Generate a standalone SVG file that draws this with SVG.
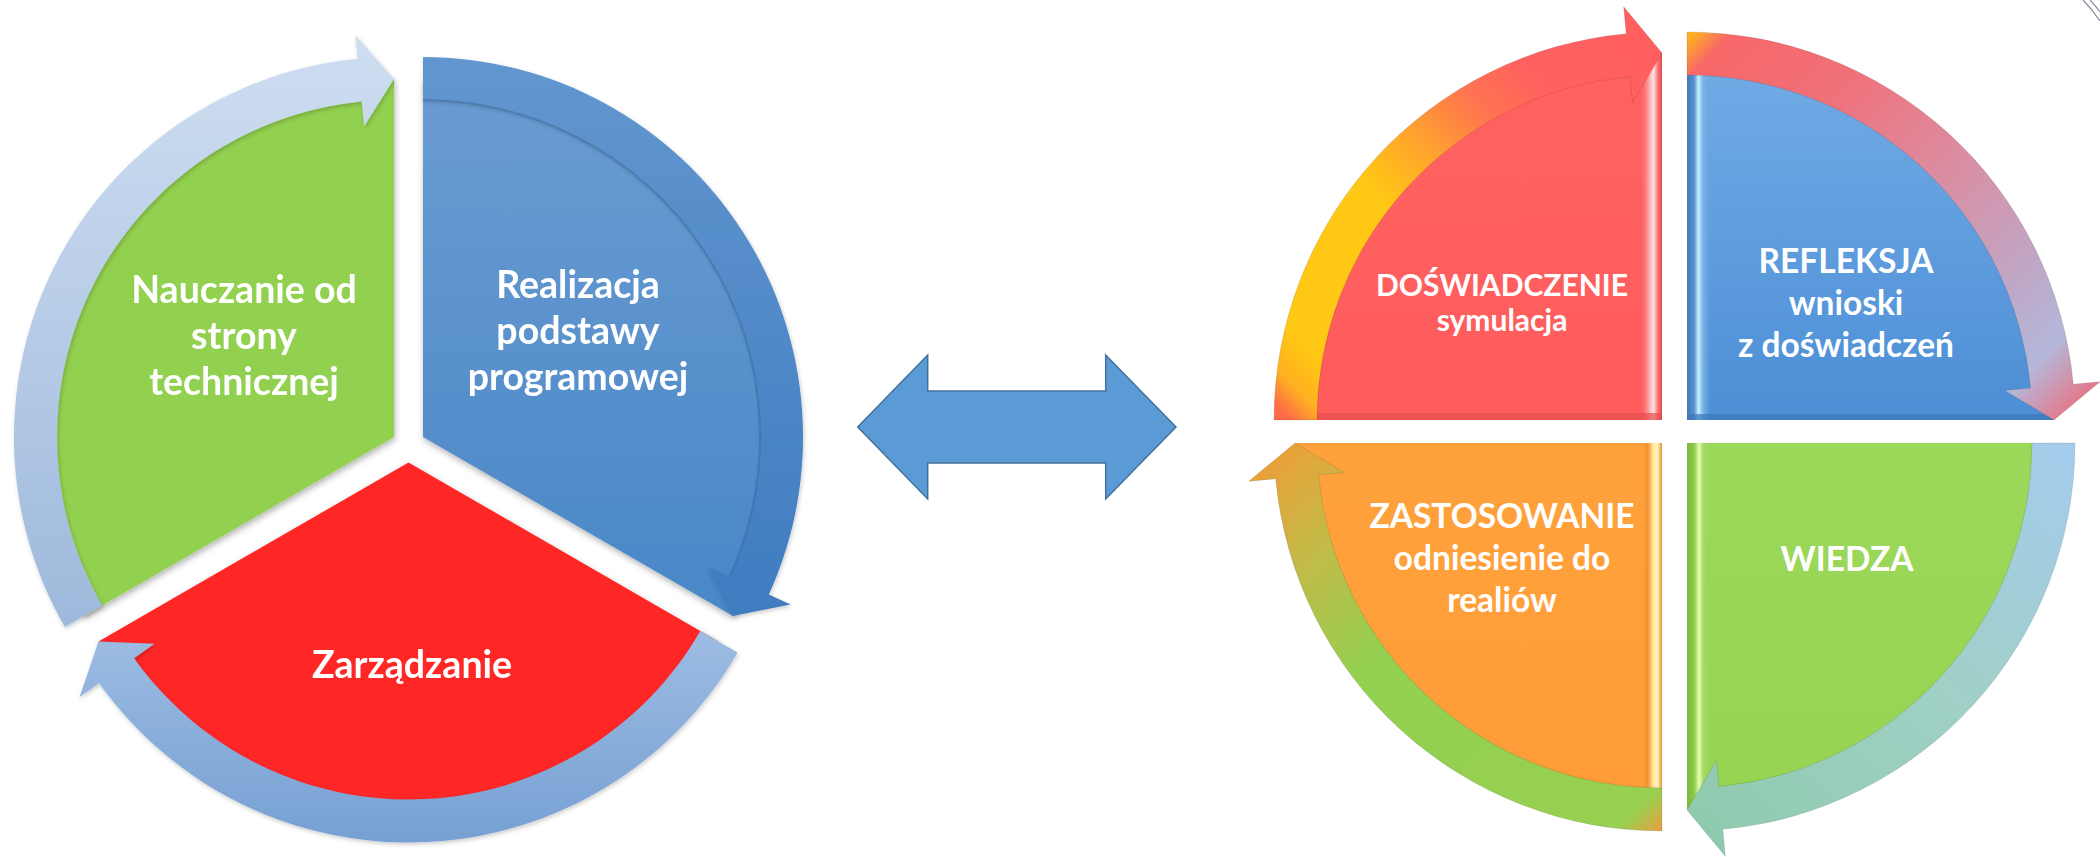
<svg xmlns="http://www.w3.org/2000/svg" width="2100" height="857" viewBox="0 0 2100 857">
<style>
.t{font-family:Lato,"Open Sans","Liberation Sans",sans-serif;font-weight:700;fill:#fff;text-anchor:middle}
.tl{font-size:37.5px}
.tr{font-size:33.5px}
.ts{font-size:30px}
.band{stroke:rgba(0,0,0,0.10);stroke-width:1}
</style>
<defs>
<filter id="sh" x="-10%" y="-10%" width="120%" height="125%"><feDropShadow dx="1" dy="3" stdDeviation="3" flood-color="#000" flood-opacity="0.3"/></filter>
<filter id="sh2" x="-10%" y="-10%" width="120%" height="125%"><feDropShadow dx="1" dy="2" stdDeviation="2" flood-color="#000" flood-opacity="0.2"/></filter>
<linearGradient id="gLightTop" gradientUnits="userSpaceOnUse" x1="0" y1="35" x2="0" y2="627"><stop offset="0" stop-color="#CFDEF1"/><stop offset="1" stop-color="#9EB9DC"/></linearGradient>
<linearGradient id="gBlueFill" gradientUnits="userSpaceOnUse" x1="0" y1="57" x2="0" y2="616"><stop offset="0" stop-color="#6B9DD2"/><stop offset="1" stop-color="#4A87C7"/></linearGradient>
<linearGradient id="gBlueBand" gradientUnits="userSpaceOnUse" x1="0" y1="57" x2="0" y2="616"><stop offset="0" stop-color="#6296CF"/><stop offset="1" stop-color="#3F7CC0"/></linearGradient>
<linearGradient id="gLightBot" gradientUnits="userSpaceOnUse" x1="0" y1="600" x2="0" y2="843"><stop offset="0" stop-color="#A3C0E4"/><stop offset="1" stop-color="#76A0D3"/></linearGradient>
<linearGradient id="gTL" gradientUnits="userSpaceOnUse" x1="1290" y1="420" x2="1662" y2="53"><stop offset="0" stop-color="#FF6A4A"/><stop offset="0.05" stop-color="#FFB020"/><stop offset="0.12" stop-color="#FFC814"/><stop offset="0.42" stop-color="#FFC814"/><stop offset="0.56" stop-color="#FFA030"/><stop offset="0.68" stop-color="#FF7450"/><stop offset="0.8" stop-color="#FF6060"/><stop offset="1" stop-color="#FF5F5F"/></linearGradient>
<linearGradient id="gTR" gradientUnits="userSpaceOnUse" x1="1687" y1="40" x2="2080" y2="420"><stop offset="0" stop-color="#FFB020"/><stop offset="0.05" stop-color="#F86868"/><stop offset="0.25" stop-color="#F07078"/><stop offset="0.5" stop-color="#DC8CA0"/><stop offset="0.75" stop-color="#BEA8C8"/><stop offset="0.87" stop-color="#B4B8DA"/><stop offset="1" stop-color="#EE6A78"/></linearGradient>
<linearGradient id="gBR" gradientUnits="userSpaceOnUse" x1="2075" y1="443" x2="1700" y2="830"><stop offset="0" stop-color="#A4CCEE"/><stop offset="0.5" stop-color="#A0D0C6"/><stop offset="1" stop-color="#8FCAAE"/></linearGradient>
<linearGradient id="gBL" gradientUnits="userSpaceOnUse" x1="1662" y1="830" x2="1290" y2="450"><stop offset="0" stop-color="#E8A040"/><stop offset="0.06" stop-color="#98D050"/><stop offset="0.6" stop-color="#92D050"/><stop offset="0.82" stop-color="#C0BC48"/><stop offset="1" stop-color="#E8A23A"/></linearGradient>
<linearGradient id="gRQ" gradientUnits="userSpaceOnUse" x1="0" y1="53" x2="0" y2="420"><stop offset="0" stop-color="#FF6262"/><stop offset="1" stop-color="#FF5C5C"/></linearGradient>
<linearGradient id="gBQ" gradientUnits="userSpaceOnUse" x1="0" y1="53" x2="0" y2="420"><stop offset="0" stop-color="#73ACE6"/><stop offset="1" stop-color="#4C8ED5"/></linearGradient>
<linearGradient id="gGQ" gradientUnits="userSpaceOnUse" x1="0" y1="443" x2="0" y2="810"><stop offset="0" stop-color="#9CD85A"/><stop offset="1" stop-color="#97D452"/></linearGradient>
<linearGradient id="gOQ" gradientUnits="userSpaceOnUse" x1="0" y1="443" x2="0" y2="810"><stop offset="0" stop-color="#FFA23C"/><stop offset="1" stop-color="#FF9C38"/></linearGradient>
<linearGradient id="bvR" x1="0" y1="0" x2="1" y2="0"><stop offset="0" stop-color="#FF5F5F" stop-opacity="0"/><stop offset="0.45" stop-color="#FFB8B8"/><stop offset="0.62" stop-color="#FFE2E2"/><stop offset="0.8" stop-color="#FF7A7A"/><stop offset="1" stop-color="#E04848"/></linearGradient>
<linearGradient id="bvB" x1="0" y1="0" x2="1" y2="0"><stop offset="0" stop-color="#4778B8"/><stop offset="0.3" stop-color="#5B92D2"/><stop offset="0.48" stop-color="#C4F2FF"/><stop offset="0.65" stop-color="#7DB6EA"/><stop offset="1" stop-color="#6AA6E2" stop-opacity="0"/></linearGradient>
<linearGradient id="bvG" x1="0" y1="0" x2="1" y2="0"><stop offset="0" stop-color="#78B83C"/><stop offset="0.3" stop-color="#8CCA48"/><stop offset="0.5" stop-color="#E6FFB0"/><stop offset="0.68" stop-color="#A6DC64"/><stop offset="1" stop-color="#9AD658" stop-opacity="0"/></linearGradient>
<linearGradient id="bvO" x1="0" y1="0" x2="1" y2="0"><stop offset="0" stop-color="#FFA03A" stop-opacity="0"/><stop offset="0.35" stop-color="#F09030"/><stop offset="0.6" stop-color="#FFE79A"/><stop offset="0.8" stop-color="#FFF4C0"/><stop offset="1" stop-color="#E8902C"/></linearGradient>
<path id="fRQ" d="M1662,420 L1295,420 A367,367 0 0 1 1662,53 Z"/>
<path id="fBQ" d="M1687,420 L1687,53 A367,367 0 0 1 2054,420 Z"/>
<path id="fGQ" d="M1687,443 L2054,443 A367,367 0 0 1 1687,810 Z"/>
<path id="fOQ" d="M1662,443 L1662,810 A367,367 0 0 1 1295,443 Z"/>
<clipPath id="cRQ"><use href="#fRQ"/></clipPath>
<clipPath id="cBQ"><use href="#fBQ"/></clipPath>
<clipPath id="cGQ"><use href="#fGQ"/></clipPath>
<clipPath id="cOQ"><use href="#fOQ"/></clipPath>
</defs>
<rect width="2100" height="857" fill="#fff"/>

<g id="left-green" filter="url(#sh)">
<path d="M394,437 L84,616 A358,358 0 0 1 394,79 Z" fill="#92D050"/>
<text class="t tl" x="244" y="303">Nauczanie od</text>
<text class="t tl" x="244" y="349">strony</text>
<text class="t tl" x="244" y="395">technicznej</text>
</g>
<g id="left-blue" filter="url(#sh)">
<path d="M423,437 L423,79 A358,358 0 0 1 733,616 Z" fill="url(#gBlueFill)"/>
<text class="t tl" x="578" y="298">Realizacja</text>
<text class="t tl" x="578" y="344">podstawy</text>
<text class="t tl" x="578" y="390">programowej</text>
</g>
<g id="left-red" filter="url(#sh)">
<path d="M408.5,462.5 L718.5,641.5 A358,358 0 0 1 98.5,641.5 Z" fill="#FF2828"/>
<text class="t tl" x="412" y="678">Zarządzanie</text>
</g>

<g id="right-red">
<use href="#fRQ" fill="url(#gRQ)"/>
<g clip-path="url(#cRQ)">
<rect x="1640" y="40" width="22" height="380" fill="url(#bvR)"/>
<rect x="1280" y="413" width="382" height="7" fill="#E44E4E" opacity="0.7"/>
</g>
<text class="t ts" x="1502" y="296">DOŚWIADCZENIE</text>
<text class="t ts" x="1502" y="331">symulacja</text>
</g>
<g id="right-blue">
<use href="#fBQ" fill="url(#gBQ)"/>
<g clip-path="url(#cBQ)">
<rect x="1687" y="40" width="24" height="380" fill="url(#bvB)"/>
<rect x="1687" y="414" width="380" height="6" fill="#3C76B8" opacity="0.7"/>
</g>
<text class="t tr" x="1846" y="273">REFLEKSJA</text>
<text class="t tr" x="1846" y="315">wnioski</text>
<text class="t tr" x="1846" y="357">z doświadczeń</text>
</g>
<g id="right-green">
<use href="#fGQ" fill="url(#gGQ)"/>
<g clip-path="url(#cGQ)">
<rect x="1687" y="443" width="24" height="380" fill="url(#bvG)"/>
</g>
<text class="t tr" x="1847" y="571">WIEDZA</text>
</g>
<g id="right-orange">
<use href="#fOQ" fill="url(#gOQ)"/>
<g clip-path="url(#cOQ)">
<rect x="1640" y="443" width="22" height="380" fill="url(#bvO)"/>
</g>
<text class="t tr" x="1502" y="528">ZASTOSOWANIE</text>
<text class="t tr" x="1502" y="570">odniesienie do</text>
<text class="t tr" x="1502" y="612">realiów</text>
</g>

<g id="connectors">
<path d="M64.9,627 A380,380 0 0 1 357.6,58.7 L355.3,34.9 L394,79 L364.1,126.4 L361.7,101.6 A337,337 0 0 0 102.2,605.5 Z" fill="url(#gLightTop)" filter="url(#sh2)"/>
<path d="M423,57 A380,380 0 0 1 768.8,594.6 L790.6,604.5 L733,616 L706.9,566.4 L729.7,576.8 A337,337 0 0 0 423,100 Z" fill="url(#gBlueBand)" filter="url(#sh2)"/>
<path d="M423,100 A337,337 0 0 1 729.7,576.8" fill="none" stroke="#2F5F96" stroke-opacity="0.35" stroke-width="2"/>
<path d="M737.6,652.5 A380,380 0 0 1 99.1,683.2 L79.6,697.1 L98.5,641.5 L154.5,643.7 L134.1,658.2 A337,337 0 0 0 700.3,631 Z" fill="url(#gLightBot)" filter="url(#sh2)"/>

<path class="band" d="M1274,420 A388,388 0 0 1 1626.2,33.7 L1623.7,6.8 L1662,53 L1632.5,102.4 L1630.1,76.5 A345,345 0 0 0 1317,420 Z" fill="url(#gTL)"/>
<path class="band" d="M1687,32 A388,388 0 0 1 2073.3,384.2 L2100.2,381.7 L2054,420 L2004.6,390.5 L2030.5,388.1 A345,345 0 0 0 1687,75 Z" fill="url(#gTR)"/>
<path class="band" d="M2075,443 A388,388 0 0 1 1722.8,829.3 L1725.3,856.2 L1687,810 L1716.5,760.6 L1718.9,786.5 A345,345 0 0 0 2032,443 Z" fill="url(#gBR)"/>
<path class="band" d="M1662,831 A388,388 0 0 1 1275.7,478.8 L1248.8,481.3 L1295,443 L1344.4,472.5 L1318.5,474.9 A345,345 0 0 0 1662,788 Z" fill="url(#gBL)"/>

<path d="M857.7,427 L927.7,355 L927.7,391 L1105.7,391 L1105.7,355 L1176,427 L1105.7,499 L1105.7,463 L927.7,463 L927.7,499 Z" fill="#5B9BD5" stroke="#41719C" stroke-width="1.5" stroke-linejoin="miter"/>
</g>
<path d="M2083,0 Q2092,9 2100,21 M2090,0 Q2095,5 2100,12" fill="none" stroke="#8A8AA0" stroke-width="1.2"/>
</svg>
